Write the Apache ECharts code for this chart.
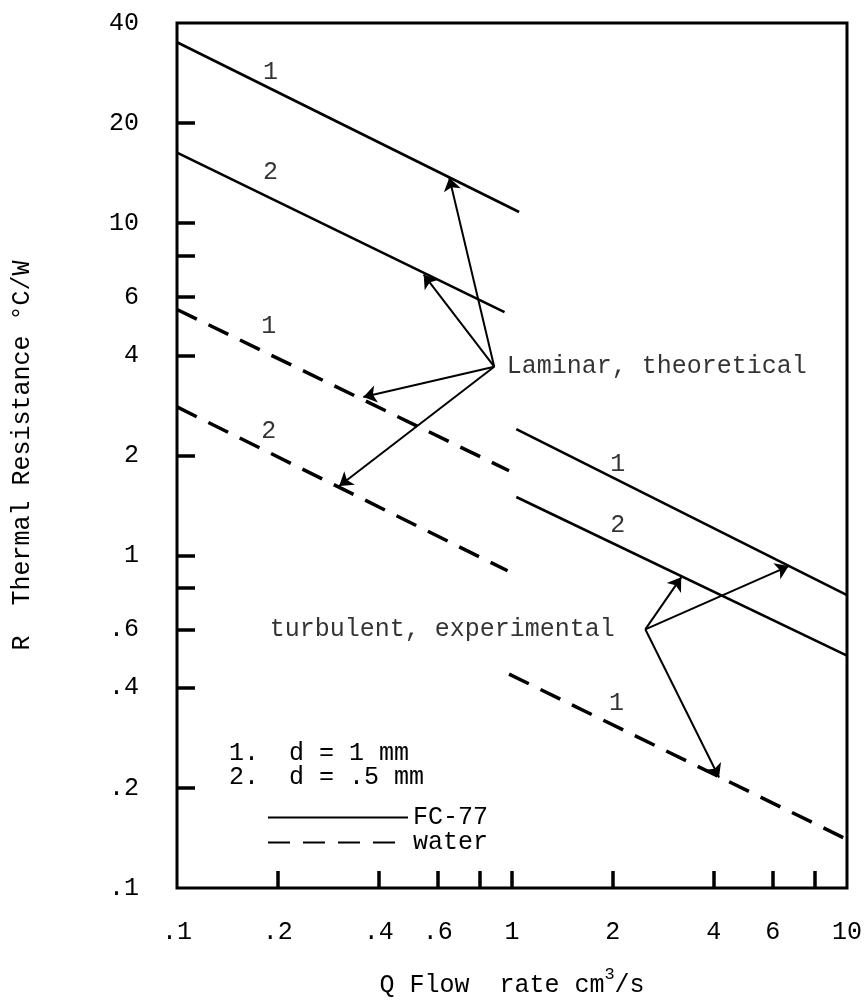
<!DOCTYPE html>
<html>
<head>
<meta charset="utf-8">
<script src="https://cdn.jsdelivr.net/npm/echarts@6/dist/echarts.min.js"></script>
<style>
  html, body { margin: 0; padding: 0; background: #fff; }
  #chart { width: 865px; height: 1003px; }
</style>
</head>
<body>
<div id="chart"></div>
<script>
// Axis ticks and labels (log-log, Q in cm^3/s, R in degC/W)
const xTickValues = [0.2, 0.4, 0.6, 0.8, 1, 2, 4, 6, 8];
const xLabelValues = [0.1, 0.2, 0.4, 0.6, 1, 2, 4, 6, 10];
const yTickValues = [0.2, 0.4, 0.6, 0.8, 1, 2, 4, 6, 8, 10, 20];
const yLabelValues = [0.1, 0.2, 0.4, 0.6, 1, 2, 4, 6, 10, 20, 40];

// Laminar, theoretical: [Q, R]
const laminarFC1 = [[0.1, 35], [1.05, 10.8]];
const laminarFC2 = [[0.1, 16.3], [0.95, 5.4]];
const laminarWater1 = [[0.1, 5.5], [0.98, 1.8]];
const laminarWater2 = [[0.1, 2.8], [0.97, 0.9]];

// Turbulent, experimental: [Q, R]
const turbFC1 = [[1.03, 2.4], [10, 0.76]];
const turbFC2 = [[1.03, 1.5], [10, 0.5]];
const turbWater1 = [[0.98, 0.44], [10, 0.14]];

// Callout arrows: common origin and the points they touch
const laminarOrigin = [0.885, 3.7];
const laminarTargets = [[0.65, 13.7], [0.545, 7.0], [0.36, 3.0], [0.305, 1.62]];
const turbOrigin = [2.5, 0.6];
const turbTargets = [[3.2, 0.86], [6.7, 0.93], [4.15, 0.215]];

// Curve numbers (1: d = 1 mm, 2: d = .5 mm)
const curveTags = [
  [0.19, 28.5, '1'], [0.19, 14.2, '2'],
  [0.188, 4.9, '1'], [0.188, 2.37, '2'],
  [2.07, 1.88, '1'], [2.07, 1.23, '2'],
  [2.05, 0.36, '1']
];

const FONT = '"Liberation Mono", "DejaVu Sans Mono", monospace';
const INK = '#000';

function fmt(v) {
  const n = Number(Number(v).toPrecision(6));
  return n < 1 ? String(n).replace(/^0/, '') : String(n);
}

const solid = { color: INK, width: 2.6, type: 'solid' };
const dashed = { color: INK, width: 3.5, type: [22, 13] };

function curve(name, data, style) {
  return {
    name: name, type: 'line', data: data, symbol: 'none', silent: true,
    lineStyle: style, itemStyle: { color: INK }, z: 3
  };
}

function arrows(origin, targets) {
  return {
    type: 'lines', coordinateSystem: 'cartesian2d', silent: true,
    symbol: ['none', 'arrow'], symbolSize: [0, 13],
    lineStyle: { color: INK, width: 2, opacity: 1, curveness: 0 },
    itemStyle: { color: INK },
    data: targets.map(t => ({ coords: [origin, t] })), z: 4
  };
}

function note(point, text, position, distance) {
  return {
    type: 'scatter', silent: true, symbolSize: 1,
    itemStyle: { color: 'rgba(0,0,0,0)' },
    data: [[point[0], point[1], text]],
    label: {
      show: true, position: position, distance: distance,
      formatter: p => p.data[2],
      fontFamily: FONT, fontSize: 25, color: INK
    },
    z: 5
  };
}

const chart = echarts.init(document.getElementById('chart'), null, { renderer: 'canvas' });

chart.setOption({
  animation: false,
  backgroundColor: '#fff',
  grid: {
    left: 177, right: 10, top: 23, bottom: 110,
    show: true, borderColor: INK, borderWidth: 3, backgroundColor: 'transparent'
  },
  legend: {
    data: ['FC-77', 'water'],
    orient: 'vertical', left: 262, top: 800,
    itemWidth: 140, itemHeight: 14, itemGap: 0,
    selectedMode: false,
    itemStyle: { opacity: 0 },
    textStyle: { fontFamily: FONT, fontSize: 25, color: INK, lineHeight: 25 }
  },
  graphic: [
    { type: 'text', left: 229, top: 741, style: { text: '1.  d = 1 mm', font: '25px ' + FONT, fill: INK } },
    { type: 'text', left: 229, top: 765, style: { text: '2.  d = .5 mm', font: '25px ' + FONT, fill: INK } }
  ],
  xAxis: {
    type: 'log', logBase: 10, min: 0.1, max: 10,
    axisLine: { show: false },
    splitLine: { show: false },
    axisTick: { show: true, inside: true, length: 17, customValues: xTickValues, lineStyle: { color: INK, width: 3.5 } },
    axisLabel: { customValues: xLabelValues, formatter: fmt, margin: 32, fontFamily: FONT, fontSize: 25, color: INK },
    name: '{t|Q Flow  rate cm}{s|3}{t|/s}',
    nameLocation: 'middle', nameGap: 78,
    nameTextStyle: {
      rich: {
        t: { fontFamily: FONT, fontSize: 25, color: INK, lineHeight: 32, verticalAlign: 'bottom' },
        s: { fontFamily: FONT, fontSize: 17, color: INK, lineHeight: 17, verticalAlign: 'top' }
      }
    }
  },
  yAxis: {
    type: 'log', logBase: 10, min: 0.1, max: 40,
    axisLine: { show: false },
    splitLine: { show: false },
    axisTick: { show: true, inside: true, length: 18, customValues: yTickValues, lineStyle: { color: INK, width: 3.5 } },
    axisLabel: { customValues: yLabelValues, formatter: fmt, margin: 38, fontFamily: FONT, fontSize: 25, color: INK },
    name: 'R  Thermal Resistance \u00B0C/W',
    nameLocation: 'middle', nameRotate: 90, nameGap: 142,
    nameTextStyle: { fontFamily: FONT, fontSize: 25, color: INK }
  },
  series: [
    curve('FC-77', laminarFC1, solid),
    curve('FC-77', laminarFC2, solid),
    curve('water', laminarWater1, dashed),
    curve('water', laminarWater2, dashed),
    curve('FC-77', turbFC1, solid),
    curve('FC-77', turbFC2, solid),
    curve('water', turbWater1, dashed),
    arrows(laminarOrigin, laminarTargets),
    arrows(turbOrigin, turbTargets),
    note(laminarOrigin, 'Laminar, theoretical', 'right', 12),
    note(turbOrigin, 'turbulent, experimental', 'left', 30),
    {
      type: 'scatter', silent: true, symbolSize: 1,
      itemStyle: { color: 'rgba(0,0,0,0)' },
      data: curveTags,
      label: { show: true, position: 'inside', formatter: p => p.data[2], fontFamily: FONT, fontSize: 25, color: INK },
      z: 5
    }
  ]
});
</script>
</body>
</html>
